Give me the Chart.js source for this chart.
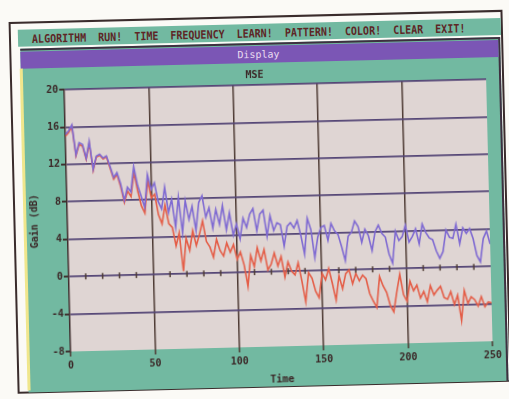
<!DOCTYPE html>
<html lang="en">
<head>
<meta charset="UTF-8">
<title>MSE</title>
<script src="https://cdn.jsdelivr.net/npm/chart.js@4.4.0/dist/chart.umd.min.js"></script>
<style>
    html, body { margin: 0; padding: 0; background: #fbfaf6; overflow: hidden; }
    #ecran {
        position: relative; width: 509px; height: 399px;
        transform: rotate(-1.4deg); transform-origin: 254px 200px;
        font-family: "DejaVu Sans Mono", monospace;
    }
    #cadre { position: absolute; left: 13px; top: 16px; width: 490px; height: 368px; border: 2px solid #3a2c2c; background: #fbfaf6; }
    #menu { position: absolute; left: 22px; top: 24px; width: 483px; height: 17px; background: #72b9a1; }
    #menuTexte {
        position: absolute; left: 36px; top: 25px; line-height: 17px; white-space: pre;
        font-size: 10px; font-weight: bold; color: #5e2626; transform: scaleY(1.15);
    }
    #fenetre { position: absolute; left: 24px; top: 43px; width: 478px; height: 342px; border-top: 2px solid #3e3040; border-right: 2px solid #3e3040; background: #72b9a1; }
    #jaune { position: absolute; left: 23px; top: 63px; width: 3px; height: 322px; background: #f0e68c; }
    #barre { position: absolute; left: 24px; top: 46px; width: 478px; height: 17px; background: #7b56b5; }
    #barreTexte { position: absolute; left: 24px; top: 46px; width: 476px; line-height: 17px; text-align: center; font-size: 10px; color: #eadcf0; }
    #graphe { position: absolute; left: 26px; top: 63px; }
</style>
</head>
<body>
<div id="ecran">
    <div id="cadre"></div>
    <div id="menu"></div>
    <div id="menuTexte">ALGORITHM  RUN!  TIME  FREQUENCY  LEARN!  PATTERN!  COLOR!  CLEAR  EXIT!</div>
    <div id="fenetre"></div>
    <div id="barre"></div>
    <div id="barreTexte">Display</div>
    <div id="jaune"></div>
    <canvas id="graphe" width="477" height="322"></canvas>
</div>
<script>
    // Temps (abscisse)
    let temps = [0, 2, 4, 6, 8, 10, 12, 14, 16, 18, 20, 22, 24, 26, 28, 30, 32, 34, 36, 38,
        40, 42, 44, 46, 48, 50, 52, 54, 56, 58, 60, 62, 64, 66, 68, 70, 72, 74, 76, 78,
        80, 82, 84, 86, 88, 90, 92, 94, 96, 98, 100, 102, 104, 106, 108, 110, 112, 114, 116, 118,
        120, 122, 124, 126, 128, 130, 132, 134, 136, 138, 140, 142, 144, 146, 148, 150, 152, 154, 156, 158,
        160, 162, 164, 166, 168, 170, 172, 174, 176, 178, 180, 182, 184, 186, 188, 190, 192, 194, 196, 198,
        200, 202, 204, 206, 208, 210, 212, 214, 216, 218, 220, 222, 224, 226, 228, 230, 232, 234, 236, 238,
        240, 242, 244, 246, 248, 250];

    // Courbe bleue (dB)
    let courbeBleue = [15.2, 15.6, 16.2, 13.0, 14.3, 14.1, 12.6, 14.4, 11.4, 12.8, 13.0, 12.6, 12.8, 11.7, 10.5, 11.0, 9.8, 8.0, 9.4, 8.9,
        11.6, 9.6, 8.4, 7.2, 10.7, 9.1, 9.8, 7.8, 7.0, 9.3, 6.6, 8.0, 5.0, 8.2, 4.4, 7.8, 5.8, 7.2, 4.6, 7.6,
        8.3, 6.0, 7.0, 4.8, 6.8, 5.2, 7.2, 4.6, 6.4, 4.0, 5.2, 3.6, 5.8, 4.8, 6.2, 6.8, 4.4, 6.2, 6.6, 3.8,
        6.0, 4.4, 5.2, 5.0, 2.7, 4.8, 5.2, 4.6, 5.4, 3.8, 1.8, 5.6, 4.4, 1.4, 3.6, 4.6, 4.8, 3.2, 5.0, 4.2,
        3.8, 2.5, 1.0, 3.6, 4.0, 5.2, 4.6, 2.9, 4.3, 3.6, 2.0, 4.0, 4.7, 3.8, 3.4, 1.6, 0.6, 4.0, 3.0, 3.4,
        4.6, 2.8, 3.4, 4.2, 2.6, 4.7, 3.8, 3.2, 3.0, 1.8, 1.0, 1.7, 4.0, 3.2, 3.1, 4.6, 2.5, 4.2, 3.6, 4.1,
        3.0, 1.2, 0.5, 3.0, 3.8, 2.4];

    // Courbe rouge (dB)
    let courbeRouge = [15.0, 15.4, 16.0, 12.9, 14.1, 13.9, 12.5, 14.2, 11.3, 12.7, 12.9, 12.5, 12.7, 11.5, 10.3, 10.8, 9.5, 7.8, 9.0, 8.4,
        11.0, 9.0, 7.4, 6.6, 10.1, 8.2, 8.6, 6.4, 5.4, 7.4, 5.4, 5.0, 3.0, 4.4, 0.3, 3.8, 2.5, 4.6, 3.0, 4.2,
        5.6, 3.4, 2.8, 1.7, 3.6, 2.4, 1.8, 3.2, 2.2, 3.0, 1.4, 2.2, 0.8, -1.5, 1.8, 0.6, 2.6, 1.2, 2.4, 0.2,
        0.8, 2.0, 0.6, 1.6, -0.6, 1.0, 0.0, -0.4, 0.9, -1.1, -3.3, -0.2, -0.8, -2.2, -2.9, -0.3, -1.0, 0.2, -1.4, -3.2,
        -0.6, -2.0, -0.4, 0.0, -1.5, -0.4, -1.2, -0.6, -1.0, -2.6, -3.4, -4.1, -0.8, -1.8, -2.5, -3.9, -4.6, -2.5, -0.6, -2.8,
        -3.5, -1.4, -2.4, -1.8, -3.2, -2.5, -3.6, -1.9, -2.9, -2.4, -2.0, -3.2, -3.4, -2.6, -4.0, -3.0, -5.7, -2.5, -3.9, -3.2,
        -3.5, -4.2, -3.2, -4.3, -3.8, -3.9];

    // Petits reperes sur la ligne 0
    let reperes = [10, 20, 30, 40, 60, 70, 80, 90, 110, 120, 130, 140, 160, 170, 180, 190, 210, 220, 230, 240];

    let police = { family: '"DejaVu Sans Mono", monospace', size: 10, weight: 'bold' };
    let encre = '#3a2626';
    let transparent = 'rgba(0,0,0,0)';

    // Fond de la zone de trace
    let fondZone = {
        id: 'fondZone',
        beforeDraw(chart) {
            let { ctx, chartArea: a } = chart;
            ctx.save();
            ctx.fillStyle = '#dfd5d3';
            ctx.fillRect(a.left, a.top, a.right - a.left, a.bottom - a.top);
            ctx.restore();
        }
    };

    let ctx = document.getElementById('graphe').getContext('2d');
    let chart = new Chart(ctx, {
        type: 'line',
        data: {
            datasets: [{
                data: reperes.map(t => ({ x: t, y: 0 })),
                showLine: false,
                pointStyle: 'line',
                rotation: 90,
                pointRadius: 3,
                borderColor: '#4e3b34',
                borderWidth: 1.5,
                order: 0
            }, {
                label: 'bleu',
                data: temps.map((t, i) => ({ x: t, y: courbeBleue[i] })),
                borderColor: '#7f6ad2',
                borderWidth: 1.6,
                pointRadius: 0,
                tension: 0,
                order: 1
            }, {
                label: 'rouge',
                data: temps.map((t, i) => ({ x: t, y: courbeRouge[i] })),
                borderColor: '#e45e48',
                borderWidth: 1.6,
                pointRadius: 0,
                tension: 0,
                order: 2
            }]
        },
        options: {
            responsive: false,
            animation: false,
            layout: { padding: { left: 0, right: 14, top: 0, bottom: 0 } },
            plugins: {
                legend: { display: false },
                tooltip: { enabled: false },
                title: {
                    display: true, text: 'MSE', color: encre,
                    font: { ...police, lineHeight: 1.2 },
                    padding: { top: 6, bottom: 4 }
                }
            },
            scales: {
                x: {
                    type: 'linear', min: 0, max: 250,
                    afterFit: s => { s.height = 38; },
                    ticks: { stepSize: 50, color: encre, font: police, padding: 3, maxRotation: 0 },
                    grid: {
                        color: c => (c.tick && (c.tick.value === 0 || c.tick.value === 250)) ? transparent : '#4e3b34',
                        lineWidth: 1.5, tickLength: 5, tickColor: '#4e3b34'
                    },
                    border: { display: false },
                    title: { display: true, text: 'Time', color: encre, font: { ...police, lineHeight: 1 }, padding: { top: 0, bottom: 0 } }
                },
                y: {
                    min: -8, max: 20,
                    afterFit: s => { s.width = 41; },
                    ticks: { stepSize: 4, color: encre, font: police, padding: 1 },
                    grid: {
                        color: c => (c.tick && c.tick.value === -8) ? transparent : '#554676',
                        lineWidth: 1.8, tickLength: 5, tickColor: encre
                    },
                    border: { display: true, color: '#3e2e2e', width: 1.5 },
                    title: { display: true, text: 'Gain (dB)', color: encre, font: { ...police, lineHeight: 1.2 }, padding: { top: 2, bottom: 0 } }
                }
            }
        },
        plugins: [fondZone]
    });
</script>
</body>
</html>
